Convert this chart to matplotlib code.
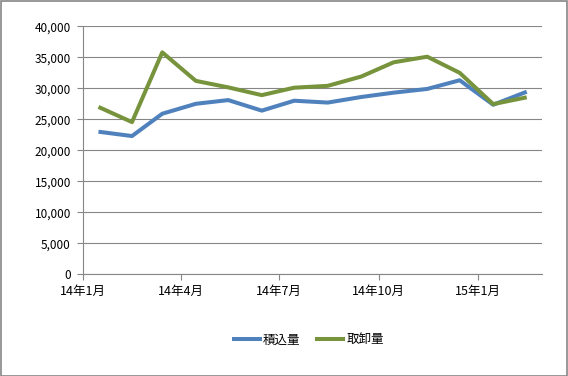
import datetime as dt
import matplotlib
matplotlib.use('Agg')
import matplotlib.pyplot as plt
import matplotlib.ticker as plticker

plt.rcParams['font.family'] = ['Noto Sans CJK JP', 'DejaVu Sans']

# monthly data, Jan 2014 - Feb 2015 (points sit mid-month)
months = [(2014, m) for m in range(1, 13)] + [(2015, 1), (2015, 2)]
loading = [23000, 22300, 25900, 27500, 28100, 26400, 28000,
           27700, 28600, 29300, 29900, 31300, 27350, 29450]
unloading = [27000, 24550, 35800, 31200, 30150, 28900, 30100,
             30400, 31900, 34200, 35100, 32500, 27450, 28550]
series_names = ['積込量', '取卸量']
tick_months = [(2014, 1), (2014, 4), (2014, 7), (2014, 10), (2015, 1)]

x = [dt.date(y, m, 15) for y, m in months]

fig = plt.figure(figsize=(5.68, 3.76), dpi=100)
ax = fig.add_axes([0.1467, 0.2705, 0.8073, 0.6595])

ax.plot(x, loading, color='#4F81BD', lw=2.9, label=series_names[0],
        solid_joinstyle='round', solid_capstyle='butt')
ax.plot(x, unloading, color='#77933C', lw=2.9, label=series_names[1],
        solid_joinstyle='round', solid_capstyle='butt')

ax.set_xlim(dt.date(2014, 1, 1), dt.date(2015, 3, 1))
ax.set_ylim(0, 40000)
ax.yaxis.set_major_locator(plticker.MultipleLocator(5000))
ax.yaxis.set_major_formatter(plticker.FuncFormatter(lambda v, p: '{:,.0f}'.format(v)))
ax.set_xticks([dt.date(y, m, 1) for y, m in tick_months])
ax.set_xticklabels(['%d年%d月' % (y % 100, m) for y, m in tick_months])

ax.grid(axis='y', color='#868686', lw=0.8)
ax.set_axisbelow(True)
for s in ['top', 'right']:
  ax.spines[s].set_visible(False)
for s in ['left', 'bottom']:
  ax.spines[s].set_color('#868686')
  ax.spines[s].set_linewidth(0.8)
ax.tick_params(axis='both', colors='#868686', labelcolor='black',
               length=4, width=0.8)
ax.tick_params(axis='y', labelsize=8.5, pad=5)
ax.tick_params(axis='x', labelsize=9, pad=4)

fig.legend(loc='center', bbox_to_anchor=(0.542, 0.096), ncol=2,
           frameon=False, fontsize=9, handlelength=2.4, columnspacing=1.2,
           handletextpad=0.1)

# outer border like the chart area frame
fig.patches.append(plt.Rectangle((0.001, 0.001), 0.997, 0.996,
                                 transform=fig.transFigure, fill=False,
                                 edgecolor='#868686', lw=1.2))

fig.savefig('out.png', dpi=100)
